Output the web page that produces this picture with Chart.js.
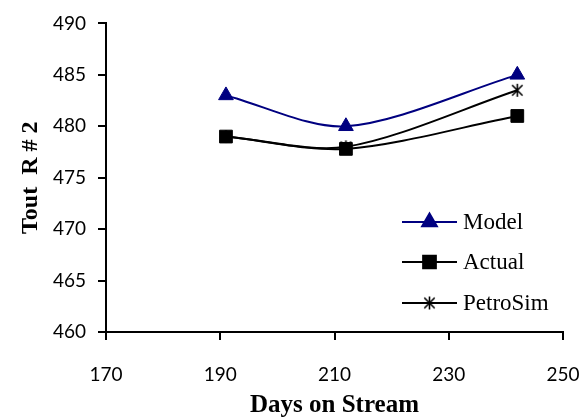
<!DOCTYPE html>
<html>
<head>
<meta charset="utf-8">
<script src="https://cdn.jsdelivr.net/npm/chart.js@4"></script>
<style>
html,body{margin:0;padding:0;background:#fff;}
#wrap{width:584px;height:418px;position:relative;}
</style>
</head>
<body>
<div id="wrap"><canvas id="c" width="584" height="418"></canvas></div>
<script>
const days = [191, 212, 242];
const model = [483, 480, 485];
const actual = [479, 477.8, 481];
const petroSim = [479, 478, 483.5];
const seriesNames = ['Model', 'Actual', 'PetroSim'];
const xTicks = [170, 190, 210, 230, 250];
const yTicks = [460, 465, 470, 475, 480, 485, 490];

function starCanvas() {
  const s = 15, cv = document.createElement('canvas');
  cv.width = s; cv.height = s;
  const g = cv.getContext('2d');
  g.strokeStyle = '#000'; g.lineWidth = 1.6; g.lineCap = 'butt';
  const c = s / 2, r = 6.5, d = r * 0.8;
  g.beginPath();
  g.moveTo(c, c - r); g.lineTo(c, c + r);
  g.moveTo(c - d, c - d); g.lineTo(c + d, c + d);
  g.moveTo(c + d, c - d); g.lineTo(c - d, c + d);
  g.stroke();
  return cv;
}
const star = starCanvas();

const toXY = arr => arr.map((v, i) => ({x: days[i], y: v}));

const legendPlugin = {
  id: 'insideLegend',
  afterDatasetsDraw(chart) {
    const ctx = chart.ctx;
    const rows = [222, 262, 303];
    chart.data.datasets.forEach((ds, i) => {
      const y = rows[i];
      ctx.save();
      ctx.strokeStyle = ds.borderColor;
      ctx.lineWidth = ds.borderWidth;
      ctx.beginPath();
      ctx.moveTo(402, y); ctx.lineTo(457, y);
      ctx.stroke();
      ctx.fillStyle = ds.pointBackgroundColor;
      ctx.strokeStyle = ds.pointBorderColor;
      Chart.helpers.drawPoint(ctx, {pointStyle: ds.pointStyle, radius: ds.pointRadius, rotation: 0, borderWidth: ds.pointBorderWidth}, 429.5, y);
      ctx.fillStyle = '#000';
      ctx.font = '23px "Liberation Serif", serif';
      ctx.textBaseline = 'middle';
      ctx.textAlign = 'left';
      ctx.fillText(seriesNames[i], 463, y + 1);
      ctx.restore();
    });
  }
};

new Chart(document.getElementById('c'), {
  type: 'line',
  data: {
    datasets: [
      {label: seriesNames[0], data: toXY(model), borderColor: '#000080', borderWidth: 2,
       pointStyle: 'triangle', pointRadius: 8.5, pointBackgroundColor: '#000080', pointBorderColor: '#000080', pointBorderWidth: 1, tension: 0.3},
      {label: seriesNames[1], data: toXY(actual), borderColor: '#000', borderWidth: 2,
       pointStyle: 'rect', pointRadius: 9, pointBackgroundColor: '#000', pointBorderColor: '#000', pointBorderWidth: 1, tension: 0.3},
      {label: seriesNames[2], data: toXY(petroSim), borderColor: '#000', borderWidth: 2,
       pointStyle: star, pointRadius: 7, pointBackgroundColor: '#000', pointBorderColor: '#000', pointBorderWidth: 1, tension: 0.3}
    ]
  },
  options: {
    responsive: false,
    animation: false,
    events: [],
    layout: {padding: {top: 16, left: 0, right: 21, bottom: 0}},
    plugins: {legend: {display: false}, tooltip: {enabled: false}},
    scales: {
      x: {
        type: 'linear', min: 170, max: 250,
        afterBuildTicks: s => { s.ticks = xTicks.map(v => ({value: v})); },
        afterFit: s => { s.height = 86; s.paddingLeft = 0; s.paddingRight = 0; },
        grid: {drawOnChartArea: false, drawTicks: true, tickLength: 8, color: '#000', lineWidth: 2},
        border: {color: '#000', width: 2},
        ticks: {color: '#000', font: {family: 'Lato', size: 19}, padding: 23, maxRotation: 0},
        title: {display: true, text: 'Days on Stream', color: '#000',
                font: {family: '"Liberation Serif", serif', size: 25, weight: 'bold'}, padding: {top: 0, bottom: -3}}
      },
      y: {
        type: 'linear', min: 460, max: 490,
        afterBuildTicks: s => { s.ticks = yTicks.map(v => ({value: v})); },
        afterFit: s => { s.width = 106; },
        grid: {drawOnChartArea: false, drawTicks: true, tickLength: 8, color: '#000', lineWidth: 2},
        border: {color: '#000', width: 2},
        ticks: {color: '#000', font: {family: 'Lato', size: 19}, padding: 12},
        title: {display: true, text: 'Tout  R # 2', color: '#000',
                font: {family: '"Liberation Serif", serif', size: 24, weight: 'bold'}, padding: {top: 16, bottom: 0}}
      }
    }
  },
  plugins: [legendPlugin]
});
</script>
</body>
</html>
